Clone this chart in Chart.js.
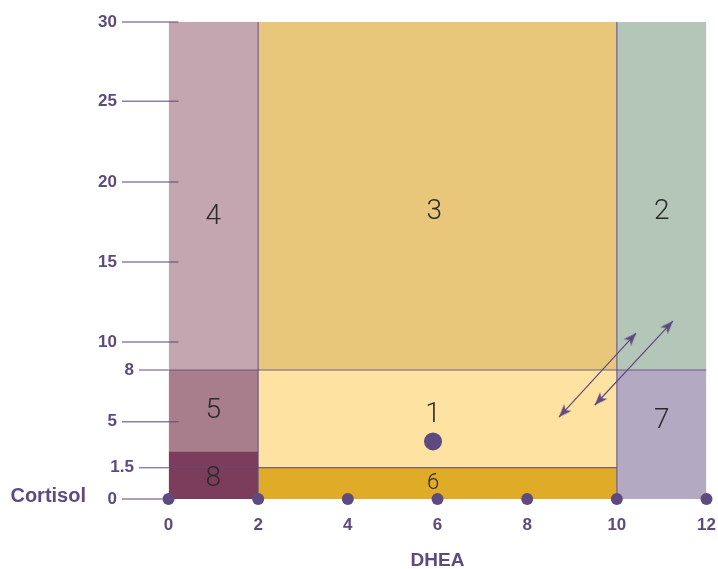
<!DOCTYPE html>
<html lang="en">
<head>
<meta charset="UTF-8">
<title>Cortisol / DHEA zones</title>
<script src="https://cdn.jsdelivr.net/npm/chart.js"></script>
<style>
  body { margin: 0; background: #ffffff; }
  #wrap { width: 718px; height: 569px; }
</style>
</head>
<body>
<div id="wrap"><canvas id="zones" width="718" height="569"></canvas></div>
<script>
// axis ticks
const xTicks = [0, 2, 4, 6, 8, 10, 12];
const yTicks = [0, 1.5, 5, 8, 10, 15, 20, 25, 30];

// zones: number, DHEA range (x), cortisol range (y)
const zoneNames = ['1', '2', '3', '4', '5', '6', '7', '8'];
const zoneX0 = [2, 10, 2, 0, 0, 2, 10, 0];
const zoneX1 = [10, 12, 10, 2, 2, 10, 12, 2];
const zoneY0 = [1.5, 8, 8, 8, 2.75, 0, 0, 0];
const zoneY1 = [8, 30, 30, 30, 8, 1.5, 8, 2.75];
// where each zone number sits (data units)
const zoneLabelX = [5.9, 11, 5.93, 1, 1, 5.9, 11, 1];
const zoneLabelY = [5.55, 18.3, 18.3, 18, 5.8, 0.85, 5.2, 1.1];

// the single reading and the two arrows
const reading = [{ x: 5.9, y: 3.5 }];
const arrowA = [{ x: 8.71, y: 5.27 }, { x: 10.43, y: 10.56 }];
const arrowB = [{ x: 9.51, y: 5.97 }, { x: 11.25, y: 11.31 }];

const zoneColors = ['#fee2a2', '#b3c6b7', '#e8c77b', '#c4a6b0', '#a97e8c', '#e0ab27', '#b3a9c3', '#7b3d5b'];
const purple = '#5e4a7e';
const lineColor = 'rgba(94, 74, 126, 0.85)';
const family = "'Liberation Sans', Arial, sans-serif";

// the cortisol axis is not linear: share of the height at each tick
const ySpacing = [0, 0.0656, 0.162, 0.2704, 0.3291, 0.4969, 0.6646, 0.8338, 1];

class StepScale extends Chart.LinearScale {
  static id = 'steps';
  static defaults = Chart.LinearScale.defaults;

  buildTicks() {
    return yTicks.map(value => ({ value }));
  }

  toDecimal(v) {
    if (v <= yTicks[0]) return ySpacing[0];
    for (let i = 1; i < yTicks.length; i++) {
      if (v <= yTicks[i]) {
        const t = (v - yTicks[i - 1]) / (yTicks[i] - yTicks[i - 1]);
        return ySpacing[i - 1] + t * (ySpacing[i] - ySpacing[i - 1]);
      }
    }
    return 1;
  }

  getPixelForValue(v) {
    return v == null ? NaN : this.getPixelForDecimal(this.toDecimal(v));
  }
}
Chart.register(StepScale);

function arrowHead() {
    const c = document.createElement('canvas');
    c.width = 28;
    c.height = 28;
    const g = c.getContext('2d');
    g.fillStyle = purple;
    g.beginPath();
    g.moveTo(14, 14);
    g.lineTo(19, 27);
    g.lineTo(14, 23.5);
    g.lineTo(9, 27);
    g.closePath();
    g.fill();
    return c;
}
const head = arrowHead();

// turn the head so it points away from the other end of the arrow
function headRotation(ctx) {
    const pts = ctx.dataset.data;
    const me = pts[ctx.dataIndex];
    const other = pts[1 - ctx.dataIndex];
    const { x, y } = ctx.chart.scales;
    const dx = x.getPixelForValue(me.x) - x.getPixelForValue(other.x);
    const dy = y.getPixelForValue(me.y) - y.getPixelForValue(other.y);
    return Math.atan2(dx, -dy) * 180 / Math.PI;
}

const datasets = [];

zoneNames.forEach((n, i) => {
    datasets.push({
        label: 'zone ' + n,
        data: [{ x: zoneX0[i], y: zoneY1[i] }, { x: zoneX1[i], y: zoneY1[i] }],
        fill: { value: zoneY0[i] },
        backgroundColor: zoneColors[i],
        borderColor: 'transparent',
        borderWidth: 0,
        pointRadius: 0,
        order: 10
    });
});

// zone borders
const borders = [
    [{ x: 2, y: 0 }, { x: 2, y: 30 }],
    [{ x: 10, y: 0 }, { x: 10, y: 30 }],
    [{ x: 0, y: 8 }, { x: 12, y: 8 }],
    [{ x: 0, y: 1.5 }, { x: 10, y: 1.5 }]
];
borders.forEach(b => {
    datasets.push({
        data: b,
        borderColor: lineColor,
        borderWidth: 1.2,
        pointRadius: 0,
        fill: false,
        order: 5
    });
});

[arrowA, arrowB].forEach(a => {
    datasets.push({
        data: a,
        borderColor: purple,
        borderWidth: 1.2,
        pointStyle: head,
        pointRadius: 6,
        pointRotation: headRotation,
        fill: false,
        order: 3
    });
});

datasets.push({
    data: xTicks.map(x => ({ x, y: 0 })),
    showLine: false,
    pointRadius: 6,
    pointBackgroundColor: purple,
    pointBorderWidth: 0,
    clip: false,
    order: 1
});

datasets.push({
    data: reading,
    showLine: false,
    pointRadius: 9,
    pointBackgroundColor: purple,
    pointBorderWidth: 0,
    order: 1
});

// y tick labels + tick marks, the Cortisol label and the zone numbers
const decor = {
    id: 'decor',
    afterDatasetsDraw(chart) {
        const { ctx, chartArea: a, scales: { x, y } } = chart;
        ctx.save();
        ctx.textBaseline = 'middle';

        yTicks.forEach(v => {
            const py = y.getPixelForValue(v);
            const near = v === 8 || v === 1.5;
            const start = a.left - (near ? 29.5 : 46.5);
            let end = a.left + 10;
            if (near) end = a.left;
            if (v === 0) end = a.left - 6;
            ctx.strokeStyle = 'rgba(94, 74, 126, 0.7)';
            ctx.lineWidth = 1.4;
            ctx.beginPath();
            ctx.moveTo(start, py);
            ctx.lineTo(end, py);
            ctx.stroke();

            ctx.fillStyle = purple;
            ctx.font = 'bold 17px ' + family;
            ctx.textAlign = 'right';
            ctx.fillText(String(v), start - 5, py);
        });

        ctx.font = 'bold 20px ' + family;
        ctx.textAlign = 'right';
        ctx.fillText('Cortisol', a.left - 82.5, y.getPixelForValue(0) - 3);

        // zone numbers, nudged down a little: digits sit high on a middle baseline
        ctx.fillStyle = '#2b2b2b';
        ctx.textAlign = 'center';
        zoneNames.forEach((n, i) => {
            const small = n === '6';
            ctx.font = (small ? '300 22px ' : '300 28px ') + 'Roboto, ' + family;
            ctx.fillText(n, x.getPixelForValue(zoneLabelX[i]), y.getPixelForValue(zoneLabelY[i]) + (small ? 2 : 3));
        });
        ctx.restore();
    }
};

new Chart(document.getElementById('zones'), {
    type: 'line',
    data: { datasets },
    options: {
        responsive: false,
        animation: false,
        events: [],
        layout: { padding: { left: 168.5, right: 11.5, top: 22, bottom: 0 } },
        elements: { line: { tension: 0 } },
        plugins: {
            legend: { display: false },
            tooltip: { enabled: false }
        },
        scales: {
            x: {
                type: 'linear',
                min: 0,
                max: 12,
                afterBuildTicks: s => { s.ticks = xTicks.map(value => ({ value })); },
                afterFit: s => {
                    s.height = 70;
                    s.paddingLeft = 0;
                    s.paddingRight = 0;
                },
                grid: { display: false, drawTicks: false },
                border: { display: false },
                ticks: {
                    color: purple,
                    padding: 16.5,
                    font: { family, size: 17, weight: 'bold', lineHeight: 1.2 }
                },
                title: {
                    display: true,
                    text: 'DHEA',
                    color: purple,
                    padding: 0,
                    font: { family, size: 19, weight: 'bold', lineHeight: 0.9 }
                }
            },
            y: {
                type: 'steps',
                min: 0,
                max: 30,
                display: false
            }
        }
    },
    plugins: [decor]
});
</script>
</body>
</html>
